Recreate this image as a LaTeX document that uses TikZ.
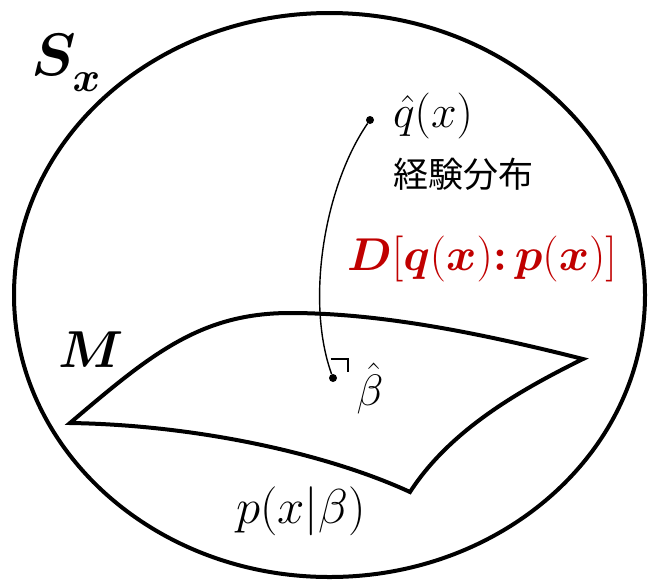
\documentclass[tikz,border=0pt]{standalone}
\usepackage{fix-cm}
\usepackage{amsmath}
\usepackage{bm}
\usepackage{fontspec}
\newfontfamily\cjk{Noto Sans CJK JP}
\definecolor{dred}{HTML}{C00000}
\tikzset{
  thick line/.style={line width=4pt},
  thin line/.style={line width=1.4pt},
  dotnode/.style={circle,fill=black,inner sep=0pt,minimum size=8pt},
  lbl/.style={inner sep=0pt,outer sep=0pt,anchor=base},
}
\begin{document}
\begin{tikzpicture}[x=1pt,y=-1pt]
\useasboundingbox (0,0) rectangle (650,582);
% ambient space
\draw[thick line] (329.5,295) ellipse [x radius=315.5, y radius=282];
% model manifold
\coordinate (cl) at (70,423);
\coordinate (cr) at (583,359);
\coordinate (cb) at (410,492);
\draw[thick line,line join=miter]
  (cl) .. controls (150,355) and (200,313) .. (290,313)
       .. controls (380,313) and (480,333) .. (cr)
       .. controls (520,390) and (450,430) .. (cb)
       .. controls (330,455) and (200,425) .. (cl) -- cycle;
% points
\node[dotnode] (qd) at (370,120) {};
\node[dotnode] (bd) at (333,378) {};
\draw[thin line] (qd) .. controls (325,185) and (305,300) .. (bd);
% right angle mark
\coordinate (ra1) at (330.5,359);
\coordinate (ra2) at (348,359);
\coordinate (ra3) at (348,372);
\draw[thin line] (ra1) -- (ra2) -- (ra3);
% labels
\node[lbl,anchor=base west] (sx) at (31,75)
  {\fontsize{60}{66}\selectfont$\bm{S}_{\lower7pt\hbox{$\scriptstyle\bm{x}$}}$};
\node[lbl] (qlab) at (433,127) {\fontsize{46}{52}\selectfont$\hat{q}(x)$};
\node[lbl,anchor=center] (emp) at (463,174) {\cjk\fontsize{35}{40}\selectfont 経験分布};
\node[lbl,text=dred] (dlab) at (482,270)
  {\fontsize{46}{52}\selectfont$\bm{D}[\bm{q}(\bm{x})\mathpunct{\bm{:}}\bm{p}(\bm{x})]$};
\node[lbl] (mlab) at (91,367) {\fontsize{52}{58}\selectfont$\bm{M}$};
\node[lbl] (blab) at (370,405) {\fontsize{44}{50}\selectfont$\hat{\beta}$};
\node[lbl] (plab) at (301,523) {\fontsize{49}{55}\selectfont$p(x|\beta)$};
\end{tikzpicture}
\end{document}
